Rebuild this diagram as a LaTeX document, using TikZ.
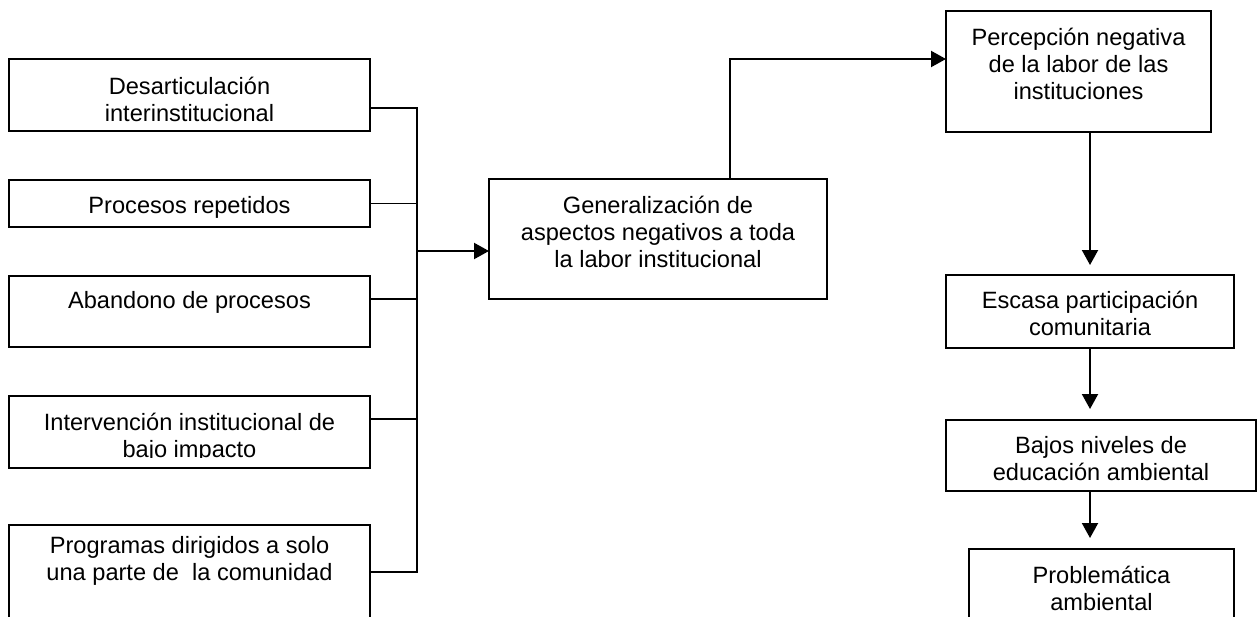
\documentclass[tikz,border=0pt]{standalone}
\usepackage{fontspec}
\setmainfont{Liberation Sans}
\usetikzlibrary{arrows.meta,calc}
\newcommand{\mybox}[4]{\parbox[t][#2][t]{#1}{\centering\rule{0pt}{#3}#4}}
\tikzset{
  bx/.style={draw, line width=2pt, inner sep=0pt, outer sep=0pt, anchor=north west,
    font=\fontsize{23.6}{27}\selectfont},
  ln/.style={line width=2.1pt},
  thinln/.style={line width=1.4pt},
  ar/.style={ln, -{Triangle[length=15pt,width=16pt]}},
}
\begin{document}
\begin{tikzpicture}[x=1pt,y=-1pt]
\clip (0,0) rectangle (1258,616);
% left boxes
\node[bx] (b1) at (9,59)  {\mybox{361pt}{72pt}{35pt}{Desarticulación\\interinstitucional}};
\node[bx] (b2) at (9,180) {\mybox{361pt}{47pt}{33pt}{Procesos repetidos}};
\node[bx] (b3) at (9,276) {\mybox{361pt}{71pt}{32pt}{Abandono de procesos}};
\node[bx] (b4) at (9,396) {\mybox{361pt}{72pt}{34pt}{Intervención institucional de\\bajo impacto}};
\fill[white] ($(b4.south west)+(1,-10)$) rectangle ($(b4.south east)+(-1,-1)$);
\node[bx] (b5) at (9,525) {\mybox{361pt}{120pt}{28pt}{Programas dirigidos a solo\\una parte de\ \ la comunidad}};
% center box
\node[bx] (c) at (489,179) {\mybox{338pt}{120pt}{34pt}{Generalización de\\aspectos negativos a toda\\la labor institucional}};
% right chain
\node[bx] (p1) at (946,11)  {\mybox{265pt}{121pt}{34pt}{Percepción negativa\\de la labor de las\\instituciones}};
\node[bx] (p2) at (946,275) {\mybox{288pt}{73pt}{33pt}{Escasa participación\\comunitaria}};
\node[bx] (p3) at (946,420) {\mybox{310pt}{71pt}{33pt}{Bajos niveles de\\educación ambiental}};
\node[bx] (p4) at (969,549) {\mybox{265pt}{120pt}{34pt}{Problemática\\ambiental}};
% bus
\coordinate (bt) at (417,108);
\coordinate (bb) at (417,572);
\coordinate (j3) at (417,299);
\coordinate (j4) at (417,419);
\coordinate (jc) at (417,251);
\draw[ln] (b1.east |- bt) -- (bt) -- (bb) -- (b5.east |- bb);
\draw[thinln] (b2.east) -- (b2.east -| bt);
\draw[ln] (j3 -| b3.east) -- (j3);
\draw[ln] (j4 -| b4.east) -- (j4);
\draw[ar] (jc) -- (jc -| c.west);
% top connector
\coordinate (tp) at (730,59);
\draw[ar] (c.north -| tp) -- (tp) -- (tp -| p1.west);
% right chain arrows
\coordinate (rx) at (1090,0);
\draw[ar, shorten >=10pt] (p1.south -| rx) -- (p2.north -| rx);
\draw[ar, shorten >=11pt] (p2.south -| rx) -- (p3.north -| rx);
\draw[ar, shorten >=11pt] (p3.south -| rx) -- (p4.north -| rx);
\end{tikzpicture}
\end{document}
